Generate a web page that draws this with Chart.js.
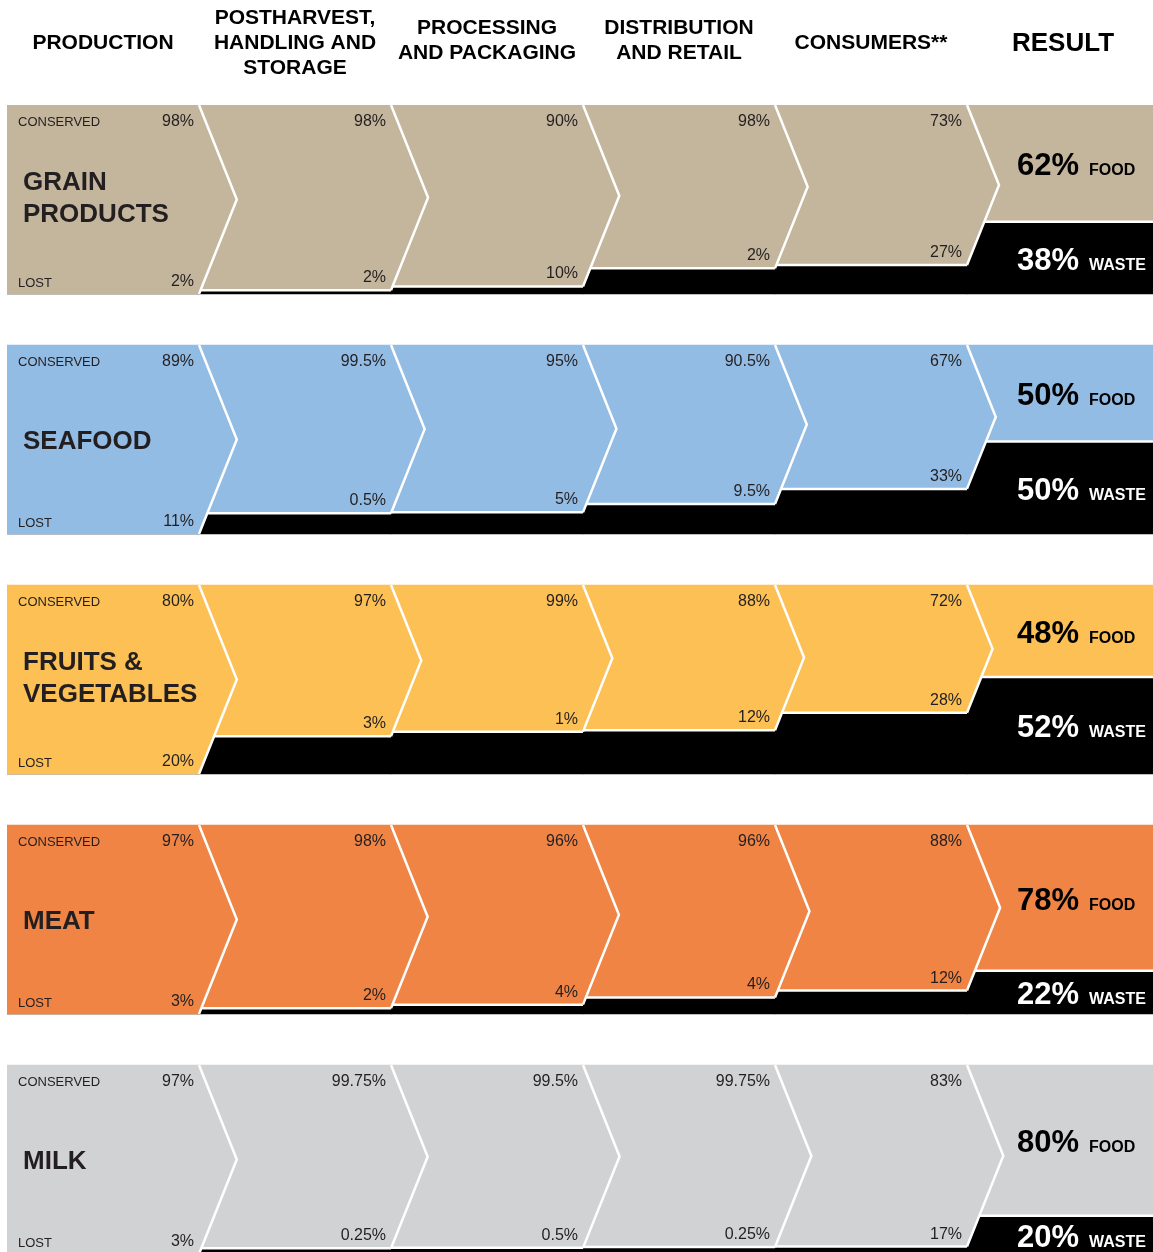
<!DOCTYPE html>
<html>
<head>
<meta charset="utf-8">
<script src="https://cdn.jsdelivr.net/npm/chart.js@4.4.1/dist/chart.umd.min.js"></script>
<style>
html,body{margin:0;padding:0;background:#fff;overflow:hidden;}
canvas{display:block;}
</style>
</head>
<body>
<canvas id="c" width="1160" height="1262"></canvas>
<script>
// ---- DATA ----
const stageLabels = [
  ['PRODUCTION'],
  ['POSTHARVEST,', 'HANDLING AND', 'STORAGE'],
  ['PROCESSING', 'AND PACKAGING'],
  ['DISTRIBUTION', 'AND RETAIL'],
  ['CONSUMERS**'],
  ['RESULT']
];
const categoryLabels = [
  ['GRAIN', 'PRODUCTS'],
  ['SEAFOOD'],
  ['FRUITS &', 'VEGETABLES'],
  ['MEAT'],
  ['MILK']
];
const grainConserved  = [98, 98, 90, 98, 73];
const grainLost       = [2, 2, 10, 2, 27];
const seafoodConserved = [89, 99.5, 95, 90.5, 67];
const seafoodLost      = [11, 0.5, 5, 9.5, 33];
const fruitConserved  = [80, 97, 99, 88, 72];
const fruitLost       = [20, 3, 1, 12, 28];
const meatConserved   = [97, 98, 96, 96, 88];
const meatLost        = [3, 2, 4, 4, 12];
const milkConserved   = [97, 99.75, 99.5, 99.75, 83];
const milkLost        = [3, 0.25, 0.5, 0.25, 17];
const resultFood  = [62, 50, 48, 78, 80];
const resultWaste = [38, 50, 52, 22, 20];

const conservedSets = [grainConserved, seafoodConserved, fruitConserved, meatConserved, milkConserved];
const lostSets = [grainLost, seafoodLost, fruitLost, meatLost, milkLost];

// ---- STYLE ----
const rowColors = ['#c4b59d', '#93bce4', '#fcc055', '#ef8445', '#d1d2d4'];
const FONT = '"Liberation Sans", Arial, Helvetica, sans-serif';
const ROW_SPAN = 100;   // band height in value units
const ROW_PITCH = 127;  // band + gap
const yMax = ROW_PITCH * (categoryLabels.length - 1) + ROW_SPAN;

// cumulative share remaining when entering each column (6 columns)
const cumulative = conservedSets.map(cons => {
  const out = [100];
  cons.forEach((c, i) => out.push(out[i] * c / 100));
  return out;
});

const datasets = [];
cumulative.forEach((cum, r) => {
  const top = r * ROW_PITCH;
  datasets.push({
    label: categoryLabels[r].join(' ') + ' conserved',
    data: cum.map(c => [top, top + c]),
    backgroundColor: rowColors[r],
    borderWidth: 0, grouped: false, barPercentage: 1, categoryPercentage: 1
  });
  datasets.push({
    label: categoryLabels[r].join(' ') + ' lost',
    data: cum.map(c => [top + c, top + ROW_SPAN]),
    backgroundColor: '#000000',
    borderWidth: 0, grouped: false, barPercentage: 1, categoryPercentage: 1
  });
});

const overlay = {
  id: 'overlay',
  afterDatasetsDraw(chart) {
    const ctx = chart.ctx;
    const xs = chart.scales.x, ys = chart.scales.y;
    const colW = xs.getPixelForValue(1) - xs.getPixelForValue(0);
    const slope = 0.40; // horizontal run per vertical px of chevron edge
    const left = k => xs.getPixelForValue(k) - colW / 2;
    const nCols = stageLabels.length;

    // header
    ctx.save();
    ctx.fillStyle = '#000';
    ctx.textAlign = 'center';
    ctx.textBaseline = 'middle';
    stageLabels.forEach((lines, k) => {
      const cx = xs.getPixelForValue(k);
      const big = k === nCols - 1;
      ctx.font = 'bold ' + (big ? 26 : 21) + 'px ' + FONT;
      const lh = 25;
      const c = lines.length % 2 === 0 ? 40.5 : 43.5;
      const y0 = c - (lines.length - 1) * lh / 2;
      lines.forEach((t, i) => ctx.fillText(t, cx, y0 + i * lh));
    });
    ctx.restore();

    cumulative.forEach((cum, r) => {
      const base = r * ROW_PITCH;
      const top = ys.getPixelForValue(base);
      const bandBot = ys.getPixelForValue(base + ROW_SPAN);
      const bot = k => ys.getPixelForValue(base + cum[k]);
      const color = rowColors[r];
      ctx.save();
      ctx.lineWidth = 2.5;
      ctx.strokeStyle = '#fff';
      // white edge on top of black in columns 1..5
      for (let k = 1; k < nCols; k++) {
        const x1 = left(k), x2 = k === nCols - 1 ? chart.chartArea.right : left(k + 1);
        ctx.beginPath();
        ctx.moveTo(x1, bot(k));
        ctx.lineTo(x2, bot(k));
        ctx.stroke();
      }
      // chevrons
      for (let k = 0; k < nCols - 1; k++) {
        const xb = left(k + 1);
        const half = (bot(k) - top) / 2;
        const mid = top + half;
        const tipW = half * slope;
        ctx.beginPath();
        ctx.moveTo(xb - 1, top);
        ctx.lineTo(xb, top);
        ctx.lineTo(xb + tipW, mid);
        ctx.lineTo(xb, bot(k));
        ctx.lineTo(xb - 1, bot(k));
        ctx.closePath();
        ctx.fillStyle = color;
        ctx.fill();
        ctx.beginPath();
        ctx.moveTo(xb, top);
        ctx.lineTo(xb + tipW, mid);
        ctx.lineTo(xb, bot(k));
        ctx.lineJoin = 'miter';
        ctx.stroke();
      }
      // category label
      const lines = categoryLabels[r];
      ctx.fillStyle = '#231f20';
      ctx.font = 'bold 26px ' + FONT;
      ctx.textAlign = 'left';
      ctx.textBaseline = 'alphabetic';
      const cy = (top + bandBot) / 2 + (lines.length > 1 ? -3 : 0) + 9.3;
      const lh = 32;
      lines.forEach((t, i) => ctx.fillText(t, left(0) + 16, cy - (lines.length - 1) * lh / 2 + i * lh));

      // stage labels
      ctx.font = '13px ' + FONT;
      ctx.fillText('CONSERVED', left(0) + 11, top + 21);
      ctx.fillText('LOST', left(0) + 11, bandBot - 7);
      ctx.font = '16px ' + FONT;
      ctx.textAlign = 'right';
      const cons = conservedSets[r], lost = lostSets[r];
      for (let k = 0; k < nCols - 1; k++) {
        const xr = left(k + 1) - 5;
        ctx.fillText(cons[k] + '%', xr, top + 21);
        ctx.fillText(lost[k] + '%', xr, bot(k) - 8);
      }
      // result
      const rx = left(nCols - 1) + 50;
      const foodMid = (top + bot(nCols - 1)) / 2;
      const wasteMid = (bot(nCols - 1) + bandBot) / 2;
      ctx.textAlign = 'left';
      const drawResult = (num, word, midY, col) => {
        ctx.fillStyle = col;
        ctx.font = 'bold 31px ' + FONT;
        const s = num + '%';
        const w = ctx.measureText(s).width;
        ctx.fillText(s, rx, midY + 12);
        ctx.font = 'bold 16px ' + FONT;
        ctx.fillText(word, rx + w + 10, midY + 12);
      };
      drawResult(resultFood[r], 'FOOD', foodMid, '#000');
      drawResult(resultWaste[r], 'WASTE', wasteMid, '#fff');
      ctx.restore();
    });
  }
};

new Chart(document.getElementById('c'), {
  type: 'bar',
  data: { labels: stageLabels.map(l => l.join(' ')), datasets },
  options: {
    responsive: false,
    animation: false,
    layout: { padding: { left: 7, right: 1, top: 105, bottom: 8 } },
    scales: {
      x: { type: 'category', display: false, offset: true, grid: { display: false } },
      y: { type: 'linear', min: 0, max: yMax, reverse: true, display: false }
    },
    plugins: { legend: { display: false }, tooltip: { enabled: false } }
  },
  plugins: [overlay]
});
</script>
</body>
</html>
